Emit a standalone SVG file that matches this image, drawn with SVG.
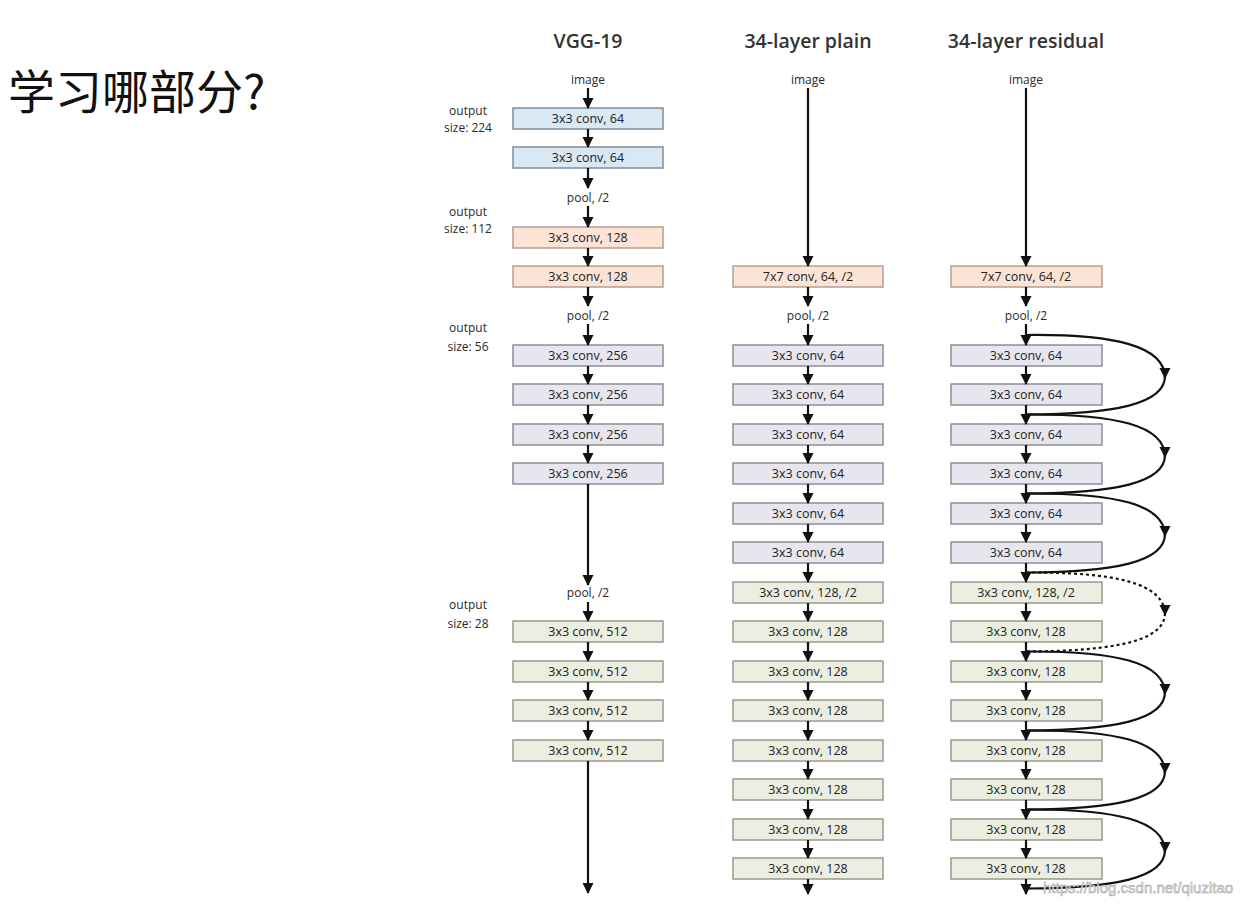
<svg xmlns="http://www.w3.org/2000/svg" width="1254" height="905" viewBox="0 0 1254 905">
<style>
text{font-family:"Open Sans","Liberation Sans",sans-serif;fill:#2a2a2a}
.t{font-size:19.5px;text-anchor:middle;font-weight:600;fill:#333}
.l{font-size:12px;text-anchor:middle}
.bx{font-size:12.5px;text-anchor:middle;dominant-baseline:central;fill:#222}
.b{fill:#e7e6ef;stroke:#8e8d98;stroke-width:1.5}
.blue{fill:#d9e8f3;stroke:#7f8f9a}
.peach{fill:#fbe4d6;stroke:#b59e8f}
.green{fill:#ebeee0;stroke:#979a8a}
line,.a{stroke:#111;stroke-width:2.2;fill:none;marker-end:url(#ah)}
.s{stroke:#111;stroke-width:2.2;fill:none}
.d{stroke-dasharray:3,3}
</style>
<defs>
<marker id="ah" markerUnits="userSpaceOnUse" markerWidth="12" markerHeight="12" refX="10" refY="5.5" orient="auto">
<path d="M0,0 L11,5.5 L0,11 z" fill="#111"/>
</marker>
</defs>

<text x="8" y="109" style="font-family:'Noto Sans CJK SC','Noto Sans',sans-serif;font-size:47px;fill:#111">学习哪部分?</text>

<g id="titles">
<text class="t" x="588" y="48">VGG-19</text>
<text class="t" x="808" y="48">34-layer plain</text>
<text class="t" x="1026" y="48">34-layer residual</text>
</g>

<g id="labels">
<text class="l" x="468" y="115">output</text><text class="l" x="468" y="132">size: 224</text>
<text class="l" x="468" y="216">output</text><text class="l" x="468" y="233">size: 112</text>
<text class="l" x="468" y="332">output</text><text class="l" x="468" y="351">size: 56</text>
<text class="l" x="468" y="609">output</text><text class="l" x="468" y="628">size: 28</text>
<text class="l" x="588" y="84">image</text>
<text class="l" x="808" y="84">image</text>
<text class="l" x="1026" y="84">image</text>
<text class="l" x="588" y="202">pool, /2</text>
<text class="l" x="588" y="320">pool, /2</text>
<text class="l" x="588" y="597">pool, /2</text>
<text class="l" x="808" y="320">pool, /2</text>
<text class="l" x="1026" y="320">pool, /2</text>
</g>

<g id="vgg">
<g id="v1"><rect class="b blue" x="513" y="108" width="150" height="21"/><text class="bx" x="588" y="118.5">3x3 conv, 64</text></g>
<g id="v2"><rect class="b blue" x="513" y="147" width="150" height="21"/><text class="bx" x="588" y="157.5">3x3 conv, 64</text></g>
<g id="v3"><rect class="b peach" x="513" y="227" width="150" height="21"/><text class="bx" x="588" y="237.5">3x3 conv, 128</text></g>
<g id="v4"><rect class="b peach" x="513" y="266" width="150" height="21"/><text class="bx" x="588" y="276.5">3x3 conv, 128</text></g>
<g id="v5"><rect class="b" x="513" y="345" width="150" height="21"/><text class="bx" x="588" y="355.5">3x3 conv, 256</text></g>
<g id="v6"><rect class="b" x="513" y="384" width="150" height="21"/><text class="bx" x="588" y="394.5">3x3 conv, 256</text></g>
<g id="v7"><rect class="b" x="513" y="424" width="150" height="21"/><text class="bx" x="588" y="434.5">3x3 conv, 256</text></g>
<g id="v8"><rect class="b" x="513" y="463" width="150" height="21"/><text class="bx" x="588" y="473.5">3x3 conv, 256</text></g>
<g id="v9"><rect class="b green" x="513" y="621" width="150" height="21"/><text class="bx" x="588" y="631.5">3x3 conv, 512</text></g>
<g id="v10"><rect class="b green" x="513" y="661" width="150" height="21"/><text class="bx" x="588" y="671.5">3x3 conv, 512</text></g>
<g id="v11"><rect class="b green" x="513" y="700" width="150" height="21"/><text class="bx" x="588" y="710.5">3x3 conv, 512</text></g>
<g id="v12"><rect class="b green" x="513" y="740" width="150" height="21"/><text class="bx" x="588" y="750.5">3x3 conv, 512</text></g>
</g>

<g id="plain">
<g id="p0"><rect class="b peach" x="733" y="266" width="150" height="21"/><text class="bx" x="808" y="276.5">7x7 conv, 64, /2</text></g>
<g id="p1"><rect class="b" x="733" y="345" width="150" height="21"/><text class="bx" x="808" y="355.5">3x3 conv, 64</text></g>
<g id="p2"><rect class="b" x="733" y="384" width="150" height="21"/><text class="bx" x="808" y="394.5">3x3 conv, 64</text></g>
<g id="p3"><rect class="b" x="733" y="424" width="150" height="21"/><text class="bx" x="808" y="434.5">3x3 conv, 64</text></g>
<g id="p4"><rect class="b" x="733" y="463" width="150" height="21"/><text class="bx" x="808" y="473.5">3x3 conv, 64</text></g>
<g id="p5"><rect class="b" x="733" y="503" width="150" height="21"/><text class="bx" x="808" y="513.5">3x3 conv, 64</text></g>
<g id="p6"><rect class="b" x="733" y="542" width="150" height="21"/><text class="bx" x="808" y="552.5">3x3 conv, 64</text></g>
<g id="p7"><rect class="b green" x="733" y="582" width="150" height="21"/><text class="bx" x="808" y="592.5">3x3 conv, 128, /2</text></g>
<g id="p8"><rect class="b green" x="733" y="621" width="150" height="21"/><text class="bx" x="808" y="631.5">3x3 conv, 128</text></g>
<g id="p9"><rect class="b green" x="733" y="661" width="150" height="21"/><text class="bx" x="808" y="671.5">3x3 conv, 128</text></g>
<g id="p10"><rect class="b green" x="733" y="700" width="150" height="21"/><text class="bx" x="808" y="710.5">3x3 conv, 128</text></g>
<g id="p11"><rect class="b green" x="733" y="740" width="150" height="21"/><text class="bx" x="808" y="750.5">3x3 conv, 128</text></g>
<g id="p12"><rect class="b green" x="733" y="779" width="150" height="21"/><text class="bx" x="808" y="789.5">3x3 conv, 128</text></g>
<g id="p13"><rect class="b green" x="733" y="819" width="150" height="21"/><text class="bx" x="808" y="829.5">3x3 conv, 128</text></g>
<g id="p14"><rect class="b green" x="733" y="858" width="150" height="21"/><text class="bx" x="808" y="868.5">3x3 conv, 128</text></g>
</g>

<g id="residual">
<g id="r0"><rect class="b peach" x="951" y="266" width="151" height="21"/><text class="bx" x="1026" y="276.5">7x7 conv, 64, /2</text></g>
<g id="r1"><rect class="b" x="951" y="345" width="151" height="21"/><text class="bx" x="1026" y="355.5">3x3 conv, 64</text></g>
<g id="r2"><rect class="b" x="951" y="384" width="151" height="21"/><text class="bx" x="1026" y="394.5">3x3 conv, 64</text></g>
<g id="r3"><rect class="b" x="951" y="424" width="151" height="21"/><text class="bx" x="1026" y="434.5">3x3 conv, 64</text></g>
<g id="r4"><rect class="b" x="951" y="463" width="151" height="21"/><text class="bx" x="1026" y="473.5">3x3 conv, 64</text></g>
<g id="r5"><rect class="b" x="951" y="503" width="151" height="21"/><text class="bx" x="1026" y="513.5">3x3 conv, 64</text></g>
<g id="r6"><rect class="b" x="951" y="542" width="151" height="21"/><text class="bx" x="1026" y="552.5">3x3 conv, 64</text></g>
<g id="r7"><rect class="b green" x="951" y="582" width="151" height="21"/><text class="bx" x="1026" y="592.5">3x3 conv, 128, /2</text></g>
<g id="r8"><rect class="b green" x="951" y="621" width="151" height="21"/><text class="bx" x="1026" y="631.5">3x3 conv, 128</text></g>
<g id="r9"><rect class="b green" x="951" y="661" width="151" height="21"/><text class="bx" x="1026" y="671.5">3x3 conv, 128</text></g>
<g id="r10"><rect class="b green" x="951" y="700" width="151" height="21"/><text class="bx" x="1026" y="710.5">3x3 conv, 128</text></g>
<g id="r11"><rect class="b green" x="951" y="740" width="151" height="21"/><text class="bx" x="1026" y="750.5">3x3 conv, 128</text></g>
<g id="r12"><rect class="b green" x="951" y="779" width="151" height="21"/><text class="bx" x="1026" y="789.5">3x3 conv, 128</text></g>
<g id="r13"><rect class="b green" x="951" y="819" width="151" height="21"/><text class="bx" x="1026" y="829.5">3x3 conv, 128</text></g>
<g id="r14"><rect class="b green" x="951" y="858" width="151" height="21"/><text class="bx" x="1026" y="868.5">3x3 conv, 128</text></g>
</g>

<g id="connectors">
<line x1="588" y1="88" x2="588" y2="108"/><line x1="588" y1="129" x2="588" y2="147"/><line x1="588" y1="168" x2="588" y2="188"/><line x1="588" y1="206" x2="588" y2="227"/><line x1="588" y1="248" x2="588" y2="266"/><line x1="588" y1="287" x2="588" y2="306"/><line x1="588" y1="324" x2="588" y2="345"/><line x1="588" y1="366" x2="588" y2="384"/><line x1="588" y1="405" x2="588" y2="424"/><line x1="588" y1="445" x2="588" y2="463"/><line x1="588" y1="484" x2="588" y2="585"/><line x1="588" y1="602" x2="588" y2="621"/><line x1="588" y1="642" x2="588" y2="661"/><line x1="588" y1="682" x2="588" y2="700"/><line x1="588" y1="721" x2="588" y2="740"/><line x1="588" y1="761" x2="588" y2="893"/>
<line x1="808" y1="88" x2="808" y2="266"/><line x1="808" y1="287" x2="808" y2="306"/><line x1="808" y1="324" x2="808" y2="345"/><line x1="808" y1="366" x2="808" y2="384"/><line x1="808" y1="405" x2="808" y2="424"/><line x1="808" y1="445" x2="808" y2="463"/><line x1="808" y1="484" x2="808" y2="503"/><line x1="808" y1="524" x2="808" y2="542"/><line x1="808" y1="563" x2="808" y2="582"/><line x1="808" y1="603" x2="808" y2="621"/><line x1="808" y1="642" x2="808" y2="661"/><line x1="808" y1="682" x2="808" y2="700"/><line x1="808" y1="721" x2="808" y2="740"/><line x1="808" y1="761" x2="808" y2="779"/><line x1="808" y1="800" x2="808" y2="819"/><line x1="808" y1="840" x2="808" y2="858"/><line x1="808" y1="879" x2="808" y2="894"/>
<line x1="1026" y1="88" x2="1026" y2="266"/><line x1="1026" y1="287" x2="1026" y2="306"/><line x1="1026" y1="324" x2="1026" y2="345"/><line x1="1026" y1="366" x2="1026" y2="384"/><line x1="1026" y1="405" x2="1026" y2="424"/><line x1="1026" y1="445" x2="1026" y2="463"/><line x1="1026" y1="484" x2="1026" y2="503"/><line x1="1026" y1="524" x2="1026" y2="542"/><line x1="1026" y1="563" x2="1026" y2="582"/><line x1="1026" y1="603" x2="1026" y2="621"/><line x1="1026" y1="642" x2="1026" y2="661"/><line x1="1026" y1="682" x2="1026" y2="700"/><line x1="1026" y1="721" x2="1026" y2="740"/><line x1="1026" y1="761" x2="1026" y2="779"/><line x1="1026" y1="800" x2="1026" y2="819"/><line x1="1026" y1="840" x2="1026" y2="858"/><line x1="1026" y1="879" x2="1026" y2="894"/>
<path class="a" d="M1026,335C1115,334 1165,346 1165,378"/><path class="s" d="M1165,376C1165,404 1115,414 1026,414.5"/>
<path class="a" d="M1026,414.5C1115,414 1165,425 1165,457"/><path class="s" d="M1165,455C1165,483 1115,493 1026,493.5"/>
<path class="a" d="M1026,493.5C1115,493 1165,504 1165,536"/><path class="s" d="M1165,534C1165,562 1115,572 1026,572.5"/>
<path class="a d" d="M1026,572.5C1115,572 1165,583 1165,615"/><path class="s d" d="M1165,613C1165,641 1115,651 1026,651.5"/>
<path class="a" d="M1026,651.5C1115,651 1165,662 1165,694"/><path class="s" d="M1165,692C1165,720 1115,730 1026,730.5"/>
<path class="a" d="M1026,730.5C1115,730 1165,741 1165,773"/><path class="s" d="M1165,771C1165,799 1115,809 1026,809.5"/>
<path class="a" d="M1026,809.5C1115,809 1165,820 1165,852"/><path class="s" d="M1165,850C1165,878 1115,888 1026,888.5"/>
</g>

<text x="1043" y="893" style="font-family:'Liberation Sans',sans-serif;font-size:15px;fill:#e8e8e8;stroke:#9a9a9a;stroke-width:0.5">https://blog.csdn.net/qiuzitao</text>
</svg>
